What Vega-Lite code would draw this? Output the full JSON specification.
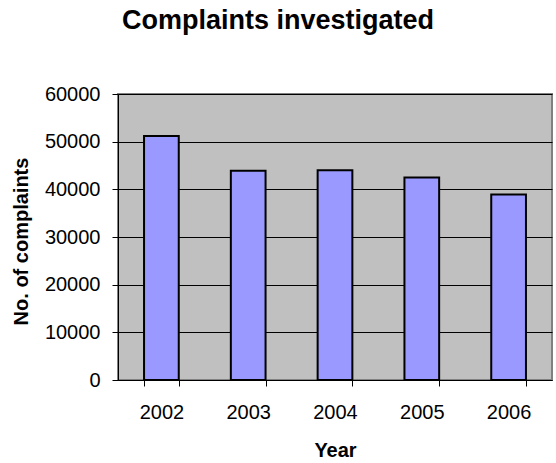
{
  "$schema": "https://vega.github.io/schema/vega-lite/v6.json",
  "width": 434,
  "height": 286,
  "autosize": {"type": "none"},
  "padding": {"left": 118, "top": 94, "right": 4, "bottom": 83},
  "background": "white",
  "title": {
    "text": "Complaints investigated",
    "font": "Liberation Sans",
    "fontSize": 27,
    "fontWeight": "bold",
    "color": "black",
    "anchor": "middle",
    "dx": -57,
    "baseline": "alphabetic",
    "offset": 28
  },
  "config": {
    "view": {"fill": "#c0c0c0", "stroke": "#808080", "strokeWidth": 2},
    "font": "Liberation Sans"
  },
  "data": {
    "values": [
      {"Year": "2002", "Complaints": 51200},
      {"Year": "2003", "Complaints": 43900},
      {"Year": "2004", "Complaints": 44000},
      {"Year": "2005", "Complaints": 42500},
      {"Year": "2006", "Complaints": 38900}
    ]
  },
  "mark": {"type": "bar", "fill": "#9999ff", "stroke": "black", "strokeWidth": 2},
  "encoding": {
    "x": {
      "field": "Year",
      "type": "ordinal",
      "scale": {"paddingInner": 0.6, "paddingOuter": 0.3},
      "axis": {
        "title": "Year",
        "labelAngle": 0,
        "labelFont": "Liberation Sans",
        "labelFontSize": 20,
        "labelColor": "black",
        "labelPadding": 16,
        "tickSize": 6,
        "tickColor": "black",
        "tickBand": "extent",
        "domainColor": "black",
        "domainWidth": 1,
        "titleFont": "Liberation Sans",
        "titleFontSize": 20,
        "titleFontWeight": "bold",
        "titleColor": "black",
        "titleBaseline": "alphabetic",
        "titleX": 217,
        "titleY": 76
      }
    },
    "y": {
      "field": "Complaints",
      "type": "quantitative",
      "scale": {"domain": [0, 60000]},
      "axis": {
        "title": "No. of complaints",
        "values": [0, 10000, 20000, 30000, 40000, 50000, 60000],
        "format": "d",
        "labelFont": "Liberation Sans",
        "labelFontSize": 20,
        "labelColor": "black",
        "labelPadding": 12,
        "tickSize": 6,
        "tickColor": "black",
        "domainColor": "black",
        "grid": true,
        "gridColor": "black",
        "gridWidth": 1,
        "titleFont": "Liberation Sans",
        "titleFontSize": 20,
        "titleFontWeight": "bold",
        "titleColor": "black",
        "titleAngle": 270,
        "titleAlign": "center",
        "titleBaseline": "alphabetic",
        "titleX": -91,
        "titleY": 147
      }
    }
  }
}
